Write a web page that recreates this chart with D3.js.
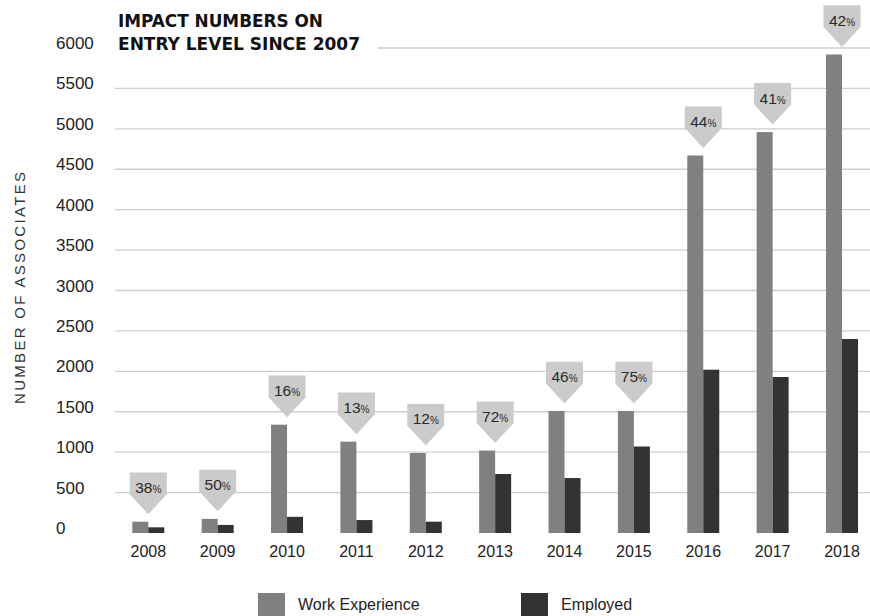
<!DOCTYPE html>
<html>
<head>
<meta charset="utf-8">
<script src="https://cdn.jsdelivr.net/npm/d3@7"></script>
<style>
  html, body { margin: 0; padding: 0; background: #fff; }
  svg { display: block; font-family: "Liberation Sans", Arial, Helvetica, sans-serif; }
</style>
</head>
<body>
<div id="chart"></div>
<script>
// chart data
var years = ["2008", "2009", "2010", "2011", "2012", "2013", "2014", "2015", "2016", "2017", "2018"];
var workExperience = [140, 175, 1340, 1130, 990, 1020, 1510, 1510, 4670, 4960, 5920];
var employed = [70, 100, 200, 160, 140, 730, 680, 1070, 2020, 1930, 2400];
var percentages = [38, 50, 16, 13, 12, 72, 46, 75, 44, 41, 42];
var yTicks = [0, 500, 1000, 1500, 2000, 2500, 3000, 3500, 4000, 4500, 5000, 5500, 6000];
var seriesNames = ["Work Experience", "Employed"];
var seriesColors = ["#808080", "#333333"];

var W = 870, H = 616;
var svg = d3.select("#chart").append("svg").attr("width", W).attr("height", H);

var x = d3.scalePoint().domain(years).range([148.3, 842]);
var xInner = d3.scaleBand().domain(seriesNames).range([-16, 16]);
var y = d3.scaleLinear().domain([0, 6000]).range([533, 48]);

// gridlines (no line at zero)
svg.append("g").selectAll("line")
    .data(yTicks.filter(function(d) { return d > 0; }))
    .enter().append("line")
    .attr("x1", 115).attr("x2", W)
    .attr("y1", function(d) { return y(d); })
    .attr("y2", function(d) { return y(d); })
    .attr("stroke", "#cfcfcf").attr("stroke-width", 1.3);

// y tick labels
svg.append("g").selectAll("text")
    .data(yTicks)
    .enter().append("text")
    .attr("x", 56)
    .attr("y", function(d) { return y(d) + 1; })
    .attr("font-size", "17px").attr("fill", "#222")
    .text(function(d) { return d; });

// axis title
svg.append("text")
    .attr("transform", "translate(25,288) rotate(-90)")
    .attr("text-anchor", "middle")
    .attr("font-size", "15px").attr("fill", "#333")
    .attr("textLength", 232).attr("lengthAdjust", "spacing")
    .text("NUMBER OF ASSOCIATES");

// chart title on white backing
svg.append("rect").attr("x", 115).attr("y", 0).attr("width", 263).attr("height", 58).attr("fill", "#fff");
var title = svg.append("g")
    .attr("font-family", "'Liberation Sans Narrow', 'DejaVu Sans Condensed', 'Arial Narrow', sans-serif")
    .attr("font-weight", "bold").attr("font-size", "18.5px").attr("fill", "#111");
title.append("text").attr("x", 118).attr("y", 26.7)
    .attr("textLength", 205).attr("lengthAdjust", "spacingAndGlyphs")
    .text("IMPACT NUMBERS ON");
title.append("text").attr("x", 118).attr("y", 50)
    .attr("textLength", 242).attr("lengthAdjust", "spacingAndGlyphs")
    .text("ENTRY LEVEL SINCE 2007");

// bars
var rows = years.map(function(yr, i) {
    return { year: yr, values: [workExperience[i], employed[i]], pct: percentages[i] };
});

var groups = svg.append("g").selectAll("g")
    .data(rows)
    .enter().append("g")
    .attr("transform", function(d) { return "translate(" + x(d.year) + ",0)"; });

groups.selectAll("rect")
    .data(function(d) { return d.values.map(function(v, k) { return { name: seriesNames[k], value: v, k: k }; }); })
    .enter().append("rect")
    .attr("x", function(d) { return xInner(d.name); })
    .attr("width", xInner.bandwidth())
    .attr("y", function(d) { return y(d.value); })
    .attr("height", function(d) { return y(0) - y(d.value); })
    .attr("fill", function(d) { return seriesColors[d.k]; });

// callouts above work experience bars
var halfW = 18.5, triH = 20, rectH = 21.6, gap = 7.5;
var callouts = groups.append("g")
    .attr("transform", function(d) { return "translate(0," + (y(d.values[0]) - gap) + ")"; });

callouts.append("path")
    .attr("d", "M0,0 L" + (-halfW) + "," + (-triH) + " L" + (-halfW) + "," + (-triH - rectH) +
        " L" + halfW + "," + (-triH - rectH) + " L" + halfW + "," + (-triH) + " Z")
    .attr("fill", "#cbcbcb");

var lbl = callouts.append("text")
    .attr("x", 0).attr("y", -triH - rectH + 20.6)
    .attr("text-anchor", "middle").attr("fill", "#2a2a2a");
lbl.append("tspan").attr("font-size", "15.5px").text(function(d) { return d.pct; });
lbl.append("tspan").attr("font-size", "10px").text("%");

// year labels
svg.append("g").selectAll("text")
    .data(years)
    .enter().append("text")
    .attr("x", function(d) { return x(d); })
    .attr("y", 556.7)
    .attr("text-anchor", "middle")
    .attr("font-size", "16px").attr("fill", "#222")
    .text(function(d) { return d; });

// legend
var legendX = [258, 521];
var legend = svg.append("g").selectAll("g")
    .data(seriesNames)
    .enter().append("g")
    .attr("transform", function(d, i) { return "translate(" + legendX[i] + ",593)"; });
legend.append("rect").attr("width", 27).attr("height", 27)
    .attr("fill", function(d, i) { return seriesColors[i]; });
legend.append("text").attr("x", 40).attr("y", 17)
    .attr("font-size", "16px").attr("fill", "#222")
    .text(function(d) { return d; });
</script>
</body>
</html>
